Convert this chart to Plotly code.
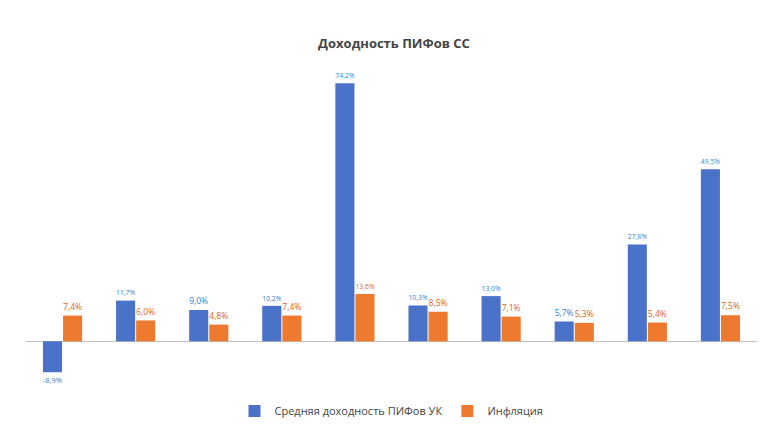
import plotly.graph_objects as go

years = ["2011", "2012", "2013", "2014", "2015", "2016", "2017", "2018", "2019", "2020"]
pif = [-8.9, 11.7, 9.0, 10.2, 74.2, 10.3, 13.0, 5.7, 27.8, 49.5]
infl = [7.4, 6.0, 4.8, 7.4, 13.6, 8.5, 7.1, 5.3, 5.4, 7.5]

def fmt(v):
    return f"{v:.1f}%".replace(".", ",")

fig = go.Figure()
fig.add_bar(x=years, y=pif, name="Средняя доходность ПИФов УК",
            marker=dict(color="#4A72C8", line=dict(width=0)),
            text=[fmt(v) for v in pif], textposition="outside", cliponaxis=False,
            textfont=dict(color="#2E86D0", size=12, family="Open Sans"))
fig.add_bar(x=years, y=infl, name="Инфляция",
            marker=dict(color="#EE7A30", line=dict(width=0)),
            text=[fmt(v) for v in infl], textposition="outside", cliponaxis=False,
            textfont=dict(color="#D9651C", size=12, family="Open Sans"))

for y in years:
    fig.add_annotation(x=y, y=0, yref="y", text=y, showarrow=False, yshift=-14,
                       font=dict(size=12, color="#444", family="Open Sans"))

fig.update_layout(
    width=772, height=444, template="none",
    paper_bgcolor="white", plot_bgcolor="white",
    title=dict(text="<b>Доходность ПИФов СС</b>", x=0.5, y=0.93, xanchor="center",
               font=dict(size=13, color="#444", family="Open Sans")),
    barmode="group", bargap=0.45, bargroupgap=0.05,
    margin=dict(l=18, r=23, t=62, b=62),
    xaxis=dict(type="category", showticklabels=False, showgrid=False, zeroline=False,
               showline=False, range=[-0.5, 9.5]),
    yaxis=dict(range=[-14, 78], showgrid=False, showticklabels=False,
               zeroline=True, zerolinecolor="#BFBFBF", zerolinewidth=1),
    legend=dict(orientation="h", x=0.5, xanchor="center", y=-0.02, yanchor="top",
                font=dict(size=11, color="#444", family="Open Sans")),
)
fig.write_html("out.html")
